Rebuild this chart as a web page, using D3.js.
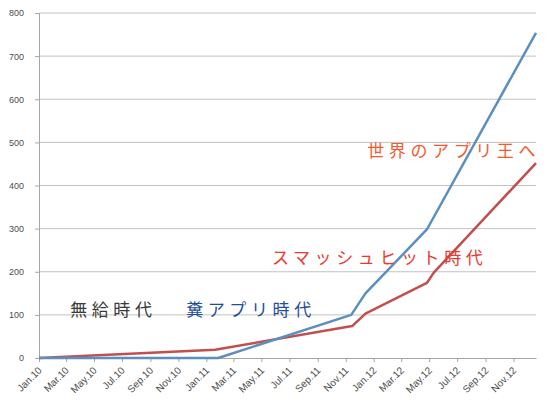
<!DOCTYPE html>
<html>
<head>
<meta charset="utf-8">
<script src="https://cdn.jsdelivr.net/npm/d3@7"></script>
<style>
  body { margin: 0; background: #fff; }
  svg text { font-family: "Liberation Sans", Arial, sans-serif; }
</style>
</head>
<body>
<svg id="chart" width="549" height="410"></svg>
<script>
// month ticks on the date axis
const tickLabels = ["Jan.10", "Mar.10", "May.10", "Jul.10", "Sep.10", "Nov.10",
  "Jan.11", "Mar.11", "May.11", "Jul.11", "Sep.11", "Nov.11",
  "Jan.12", "Mar.12", "May.12", "Jul.12", "Sep.12", "Nov.12"];
const yTicks = [0, 100, 200, 300, 400, 500, 600, 700, 800];

// blue series
const blueDates = ["2010-01-01", "2011-01-27", "2011-11-13", "2011-12-14", "2012-04-26", "2012-12-20"];
const blueValues = [0, 0, 100, 150, 298, 754];

// red series
const redDates = ["2010-01-01", "2011-01-20", "2011-11-15", "2011-12-14", "2012-04-26", "2012-05-11", "2012-12-20"];
const redValues = [0, 19, 74, 103, 174, 198, 452];

const xStart = "2010-01-01", xEnd = "2012-12-20";

// annotations
const notes = [
  { text: "無給時代", date: "2010-03-10", value: 98, color: "#3a3a3a" },
  { text: "糞アプリ時代", date: "2010-11-18", value: 98, color: "#1f4e9e" },
  { text: "スマッシュヒット時代", date: "2011-05-24", value: 218, color: "#ec3a30" },
  { text: "世界のアプリ王へ", date: "2011-12-18", value: 466, color: "#f65a2e" }
];

const parseDate = d3.timeParse("%Y-%m-%d");
const parseTick = d3.timeParse("%b.%y");

const svg = d3.select("#chart");
const m = { left: 39, right: 536, top: 13, bottom: 358 };

const x = d3.scaleTime()
  .domain([parseDate(xStart), parseDate(xEnd)])
  .range([m.left, m.right]);

const y = d3.scaleLinear()
  .domain([0, 800])
  .range([m.bottom, m.top]);

// gridlines
svg.append("g")
  .selectAll("line")
  .data(yTicks.filter(d => d > 0))
  .enter()
  .append("line")
  .attr("x1", m.left)
  .attr("x2", m.right)
  .attr("y1", d => y(d))
  .attr("y2", d => y(d))
  .attr("stroke", "#c2c2c2")
  .attr("stroke-width", 1);

// y axis
const yAxis = svg.append("g")
  .attr("transform", `translate(${m.left},0)`)
  .call(d3.axisLeft(y).tickValues(yTicks).tickSize(4).tickPadding(11));
yAxis.select(".domain").attr("stroke", "#a6a6a6");
yAxis.selectAll(".tick line").attr("stroke", "#a6a6a6");
yAxis.selectAll(".tick text")
  .attr("fill", "#4d4d4d")
  .style("font-size", "9px");

// x axis
const tickDates = tickLabels.map(parseTick);
const xAxis = svg.append("g")
  .attr("transform", `translate(0,${m.bottom})`)
  .call(d3.axisBottom(x).tickValues(tickDates).tickSize(4).tickSizeOuter(0)
    .tickFormat((d, i) => tickLabels[i]));
xAxis.select(".domain").attr("stroke", "#a6a6a6");
xAxis.selectAll(".tick line").attr("stroke", "#a6a6a6");
xAxis.selectAll(".tick text")
  .attr("fill", "#4d4d4d")
  .style("font-size", "10px")
  .attr("text-anchor", "end")
  .attr("dy", null)
  .attr("y", 0)
  .attr("transform", "translate(3,13) rotate(-45)");

const line = d3.line()
  .x(d => x(d[0]))
  .y(d => y(d[1]));

const redData = redDates.map((d, i) => [parseDate(d), redValues[i]]);
const blueData = blueDates.map((d, i) => [parseDate(d), blueValues[i]]);

svg.append("path")
  .datum(redData)
  .attr("d", line)
  .attr("fill", "none")
  .attr("stroke", "#c0504d")
  .attr("stroke-width", 2.5)
  .attr("stroke-linejoin", "round");

svg.append("path")
  .datum(blueData)
  .attr("d", line)
  .attr("fill", "none")
  .attr("stroke", "#5b8fc0")
  .attr("stroke-width", 2.5)
  .attr("stroke-linejoin", "round");

// labels
svg.append("g")
  .selectAll("text")
  .data(notes)
  .enter()
  .append("text")
  .attr("x", d => x(parseDate(d.date)))
  .attr("y", d => y(d.value))
  .attr("fill", d => d.color)
  .style("font-family", "'Noto Sans CJK JP', sans-serif")
  .style("font-size", "17px")
  .style("letter-spacing", "4.6px")
  .text(d => d.text);
</script>
</body>
</html>
